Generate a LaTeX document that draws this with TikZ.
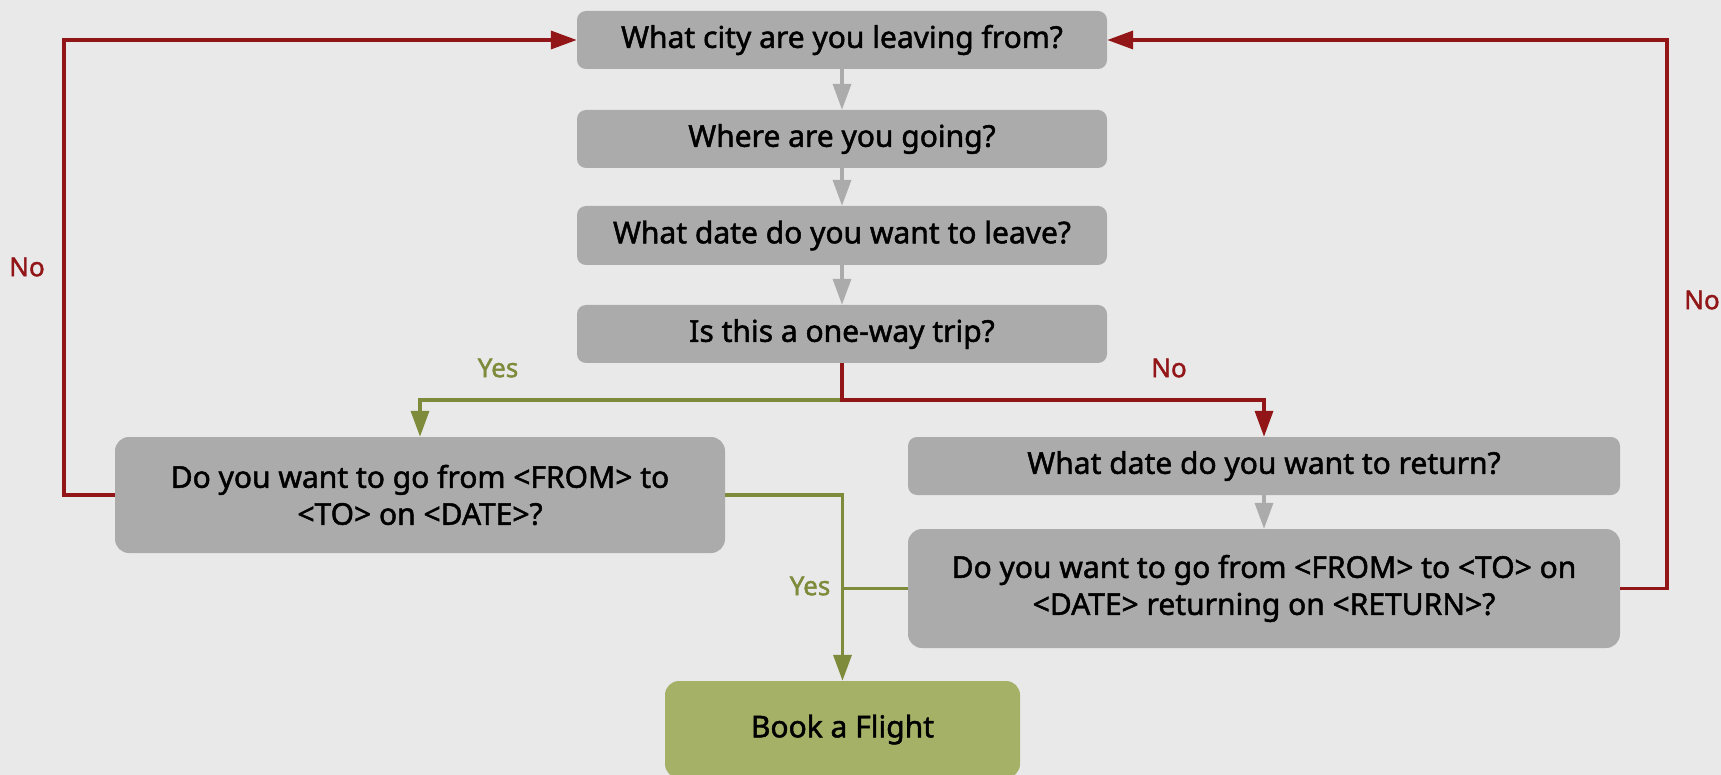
\documentclass[tikz,border=0pt]{standalone}
\usepackage{fontspec}
\setmainfont{Noto Sans}[FakeBold=1.6]
\usetikzlibrary{arrows.meta}
\definecolor{bgc}{HTML}{E9E9E9}
\definecolor{boxc}{HTML}{ABABAB}
\definecolor{bookc}{HTML}{A6B168}
\definecolor{yesc}{HTML}{7D8B3A}
\definecolor{noc}{HTML}{921618}
\tikzset{
  qbox/.style={draw=none, fill=boxc, rounded corners=9pt, align=center,
    font=\fontsize{30}{37}\selectfont, inner sep=0pt},
  bookbox/.style={qbox, fill=bookc},
  grayarrow/.style={draw=boxc, line width=3.5pt, -{Triangle[width=18pt,length=26pt]}},
  yesline/.style={draw=yesc, line width=3.5pt},
  noline/.style={draw=noc, line width=3.5pt},
  tipend/.style={-{Triangle[width=18pt,length=26pt]}},
  nolabel/.style={text=noc, font=\fontsize{26}{30}\selectfont},
  yeslabel/.style={text=yesc, font=\fontsize{26}{30}\selectfont},
}
\begin{document}
\begin{tikzpicture}[x=1pt, y=-1pt]
  \useasboundingbox (0,0) rectangle (1721,775);
  \fill[bgc] (0,0) rectangle (1721,775);

  % question boxes
  \node[qbox, minimum width=530pt, minimum height=58pt] (b1) at (842,40) {What city are you leaving from?};
  \node[qbox, minimum width=530pt, minimum height=58pt] (b2) at (842,139) {Where are you going?};
  \node[qbox, minimum width=530pt, minimum height=59pt] (b3) at (842,235.5) {What date do you want to leave?};
  \node[qbox, minimum width=530pt, minimum height=58pt] (b4) at (842,334) {Is this a one-way trip?};
  \node[qbox, rounded corners=14pt, minimum width=610pt, minimum height=116pt] (ow) at (420,495)
    {Do you want to go from <FROM> to\\<TO> on <DATE>?};
  \node[qbox, minimum width=712pt, minimum height=58pt] (r1) at (1264,466) {What date do you want to return?};
  \node[qbox, rounded corners=14pt, minimum width=712pt, minimum height=119pt] (r2) at (1264,588.5)
    {Do you want to go from <FROM> to <TO> on\\<DATE> returning on <RETURN>?};
  \node[bookbox, rounded corners=14pt, minimum width=355pt, minimum height=97pt] (book) at (842.5,729.5) {Book a Flight};

  % sequence of questions
  \draw[grayarrow] (b1) -- (b2);
  \draw[grayarrow] (b2) -- (b3);
  \draw[grayarrow] (b3) -- (b4);
  \draw[grayarrow] (r1) -- (r2);

  % one-way branch
  \draw[yesline, tipend] (b4.south) -- ++(0,37) -| (ow.north);
  \draw[noline, tipend] (b4.south) -- ++(0,37) -| (r1.north);

  % confirmations
  \draw[yesline, tipend] (ow.east) -| (book.north);
  \draw[yesline] (r2.west) -- (book.north |- r2.west);

  % start over
  \draw[noline, tipend] (ow.west) -- ++(-51,0) |- (b1.west);
  \draw[noline, tipend] (r2.east) -- ++(47,0) |- (b1.east);

  % branch labels
  \node[nolabel] (nl) at (27,267) {No};
  \node[nolabel] (nr) at (1702,300) {No};
  \node[yeslabel] (yl) at (498,368) {Yes};
  \node[nolabel] (nm) at (1169,368) {No};
  \node[yeslabel] (yb) at (810,586) {Yes};
\end{tikzpicture}
\end{document}
